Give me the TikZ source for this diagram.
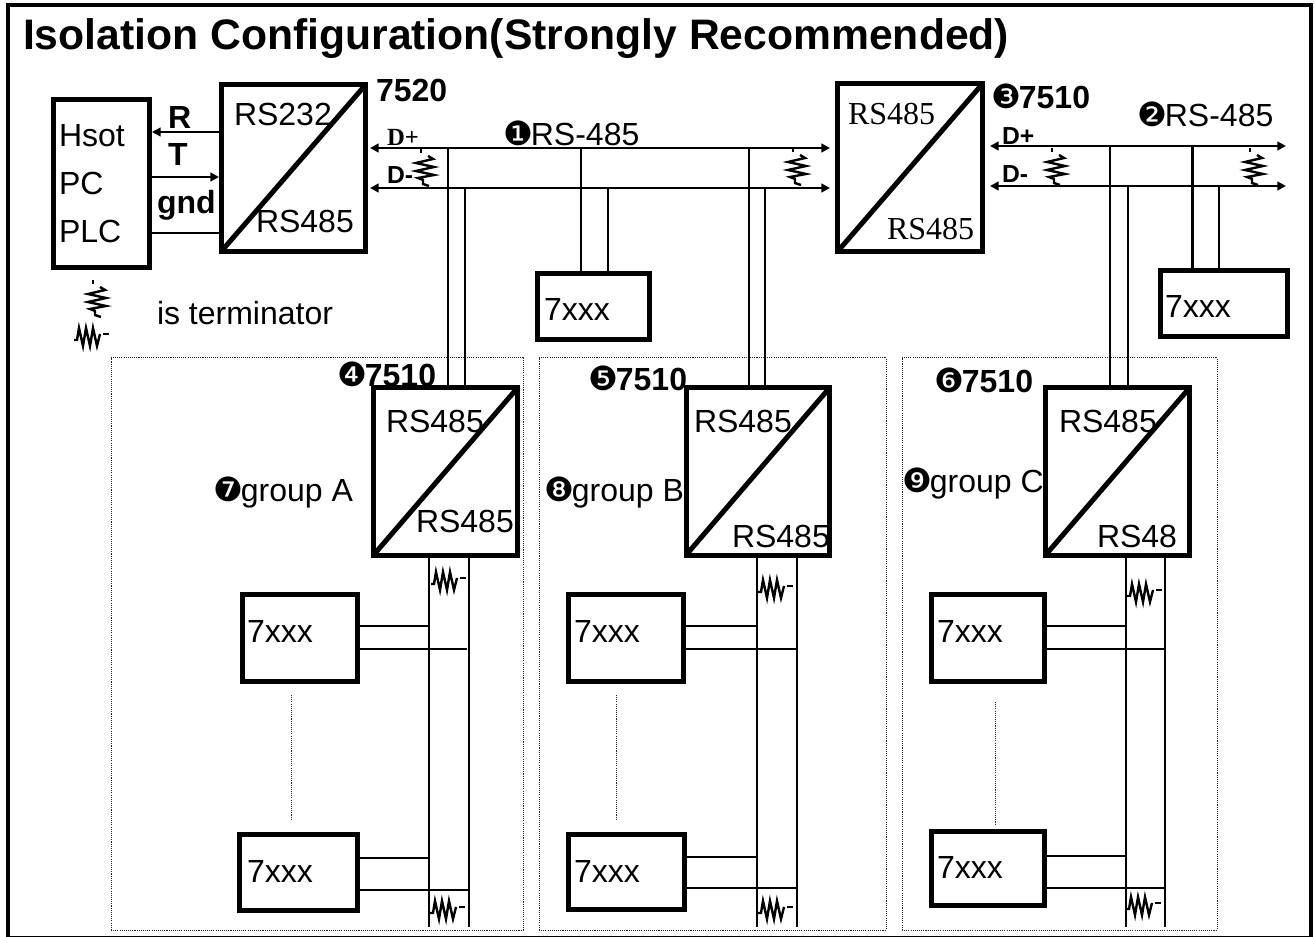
\documentclass[tikz,border=0pt]{standalone}
\usepackage{fontspec}
\setmainfont{Liberation Sans}
\newfontfamily\tms{Liberation Serif}
\newfontfamily\djv{DejaVu Sans}
\usetikzlibrary{arrows.meta}
\newcommand\circnum[1]{{\djv\fontsize{25}{24}\selectfont\mdseries #1\hspace{-1.5pt}}}
\tikzset{
  x=0.75pt,y=-0.75pt,
  lbl/.style={anchor=base west,inner sep=0pt,outer sep=0pt,font=\fontsize{24}{28}\selectfont},
  blbl/.style={lbl,font=\fontsize{24}{28}\selectfont\bfseries},
  slbl/.style={lbl,font=\tms\fontsize{24}{28}\selectfont},
  dserif/.style={lbl,font=\tms\fontsize{18.5}{22}\selectfont\bfseries},
  dsans/.style={lbl,font=\fontsize{18.5}{22}\selectfont\bfseries},
  thick box/.style={draw=black,line width=3.75pt,inner sep=0pt,fill=white},
  group box/.style={draw=black!85,line width=0.75pt,inner sep=0pt,dash pattern=on 0.8pt off 0.8pt},
  wire/.style={line width=1.9pt,draw=black},
  hair/.style={line width=0.75pt,draw=black!85,dash pattern=on 0.8pt off 0.8pt},
  diag/.style={line width=3.75pt,draw=black,shorten >=3pt,shorten <=3pt},
  both tips/.style={wire,{Triangle[length=6.5pt,width=6.5pt]}-{Triangle[length=6.5pt,width=6.5pt]}},
  end tip/.style={wire,-{Triangle[length=6.5pt,width=6.5pt]}},
  resv/.pic={\draw[line width=1.8pt,line join=miter] (3,-12)--(8,-9)--(-9,-5)--(9,-1)--(-9,3)--(9,7)--(-7,10)--(-2,12)--(-2,16)--(4,18);
             \draw[line width=1.8pt] (-4,-19)--(-4,-15);},
  resh/.pic={\draw[line width=1.8pt,line join=miter] (-18,3)--(-15,3)--(-13,-9)--(-9,9)--(-6,-9)--(-2,9)--(1,-9)--(5,9)--(8,-3);
             \draw[line width=1.8pt] (11,-3)--(17,-3);},
}
% style, name, x1, y1, x2, y2 (centre line of the border)
\newcommand\bx[6]{\node[#1,minimum width={(#5-#3)*0.75pt},minimum height={(#6-#4)*0.75pt}] (#2) at ({(#3+#5)/2},{(#4+#6)/2}) {};}
% tap: name, x, y, target node: vertical wire from a bus down to the top of a node
\newcommand\tap[4]{\coordinate (#1) at (#2,#3); \draw[wire] (#1) -- (#1 |- #4.north);}
% stub: name, y, left node, x of the free end
\newcommand\stub[4]{\coordinate (#1) at (#4,#2); \draw[wire] (#3.east |- #1) -- (#1);}
\begin{document}
\begin{tikzpicture}
\useasboundingbox (0,0) rectangle (1315,937);
\fill[white] (0,0) rectangle (1315,937);
\bx{draw=black,line width=3.5pt,inner sep=0pt}{frame}{8}{5}{1311}{938}

% group areas
\bx{group box}{gA}{111}{358}{523}{930}
\bx{group box}{gB}{539}{358}{886}{930}
\bx{group box}{gC}{902}{358}{1217}{930}

% buses
\coordinate (pL) at (370,148); \coordinate (pR) at (830,148);
\coordinate (mL) at (370,188); \coordinate (mR) at (830,188);
\coordinate (qL) at (990,146); \coordinate (qR) at (1286,146);
\coordinate (nL) at (990,186); \coordinate (nR) at (1286,186);
\draw[both tips] (pL) -- (pR);
\draw[both tips] (mL) -- (mR);
\draw[both tips] (qL) -- (qR);
\draw[both tips] (nL) -- (nR);

% boxes
\bx{thick box}{host}{53.5}{99.5}{149.5}{267.5}
\bx{thick box}{conv}{221.5}{84.5}{365.5}{251.5}
\bx{thick box}{rep}{837.5}{84}{982}{252}
\bx{thick box}{dM}{537.5}{273.5}{649.5}{339.5}
\bx{thick box}{dR}{1160.5}{270.5}{1287.5}{336.5}
\bx{thick box}{repA}{373.5}{387.5}{517.5}{555.5}
\bx{thick box}{repB}{686}{387.5}{829.5}{555.5}
\bx{thick box}{repC}{1045.5}{387.5}{1189.5}{555.5}
\bx{thick box}{dA1}{242.5}{594.5}{357.5}{681.5}
\bx{thick box}{dA2}{239.5}{834.5}{357.5}{910.5}
\bx{thick box}{dB1}{568.5}{594.5}{683.5}{681.5}
\bx{thick box}{dB2}{568.5}{834.5}{684.5}{909.5}
\bx{thick box}{dC1}{931.5}{594.5}{1044.5}{681.5}
\bx{thick box}{dC2}{931.5}{831.5}{1044.5}{905.5}

\foreach \n in {conv,rep,repA,repB,repC} \draw[diag] (\n.south west) -- (\n.north east);

% host links
\coordinate (yR) at (0,132); \coordinate (yT) at (0,177); \coordinate (yG) at (0,233);
\draw[end tip] (conv.west |- yR) -- (host.east |- yR);
\draw[end tip] (host.east |- yT) -- (conv.west |- yT);
\draw[wire] (host.east |- yG) -- (conv.west |- yG);

% taps
\tap{a1}{448}{148}{repA}
\tap{a2}{465}{188}{repA}
\tap{b1}{749}{148}{repB}
\tap{b2}{765}{188}{repB}
\tap{c1}{1110}{146}{repC}
\tap{c2}{1128}{186}{repC}
\tap{m1}{581}{148}{dM}
\tap{m2}{608}{188}{dM}
\tap{r1}{1192.5}{146}{dR}
\tap{r2}{1219}{186}{dR}

% lower buses
\coordinate (eA1) at (429,927); \coordinate (eA2) at (469,927);
\coordinate (eB1) at (757,927); \coordinate (eB2) at (797,927);
\coordinate (eC1) at (1126,927); \coordinate (eC2) at (1165,927);
\draw[wire] (eA1 |- repA.south) -- (eA1);
\draw[wire] (eA2 |- repA.south) -- (eA2);
\draw[wire] (eB1 |- repB.south) -- (eB1);
\draw[wire] (eB2 |- repB.south) -- (eB2);
\draw[wire] (eC1 |- repC.south) -- (eC1);
\draw[wire] (eC2 |- repC.south) -- (eC2);

% device stubs
\stub{s1}{626}{dA1}{429} \stub{s2}{649}{dA1}{467}
\stub{s3}{858}{dA2}{429} \stub{s4}{890}{dA2}{468}
\stub{s5}{626}{dB1}{757} \stub{s6}{649}{dB1}{797}
\stub{s7}{857}{dB2}{757} \stub{s8}{888}{dB2}{797}
\stub{s9}{626}{dC1}{1126} \stub{s10}{649}{dC1}{1165}
\stub{s11}{856}{dC2}{1126} \stub{s12}{888}{dC2}{1165}

% dotted continuation marks
\coordinate (hA1) at (291,695); \coordinate (hA2) at (291,820);
\coordinate (hB1) at (616,695); \coordinate (hB2) at (616,820);
\coordinate (hC1) at (995,702); \coordinate (hC2) at (995,825);
\draw[hair] (hA1) -- (hA2);
\draw[hair] (hB1) -- (hB2);
\draw[hair] (hC1) -- (hC2);

% terminators
\pic at (97,299) {resv};
\pic at (92,337) {resh};
\pic at (425,168) {resv};
\pic at (797,167) {resv};
\pic at (1056,167) {resv};
\pic at (1254,167) {resv};
\pic at (449,581) {resh};
\pic at (448,910) {resh};
\pic at (776,589) {resh};
\pic at (776,910) {resh};
\pic at (1145,593) {resh};
\pic at (1144,906) {resh};

% texts
\node[lbl,font=\fontsize{32}{36}\selectfont\bfseries] (title) at (23,50) {Isolation Configuration(Strongly Recommended)};
\node[lbl] (tHsot) at (59,147) {Hsot};
\node[lbl] (tPC) at (59,195) {PC};
\node[lbl] (tPLC) at (59,243) {PLC};
\node[blbl] (tR) at (168,129) {R};
\node[blbl] (tT) at (168,166) {T};
\node[blbl] (tgnd) at (157,214) {gnd};
\node[lbl] (t232) at (234,126) {RS232};
\node[lbl] (t485) at (256,233) {RS485};
\node[blbl] (t7520) at (376,102) {7520};
\node[dserif] (tDp) at (387,146) {D+};
\node[dsans] (tDm) at (387,184) {D-};
\node[lbl] (tb1) at (503,146) {\circnum{❶}RS-485};
\node[lbl] (tterm) at (157,325) {is terminator};
\node[lbl] (tM) at (544,321) {7xxx};
\node[slbl] (tr1) at (848,125) {RS485};
\node[slbl] (tr2) at (887,240) {RS485};
\node[blbl] (t3) at (991,109) {\circnum{❸}7510};
\node[lbl] (tb2) at (1137,127) {\circnum{❷}RS-485};
\node[dsans] (tDp2) at (1002,145) {D+};
\node[dsans] (tDm2) at (1002,183) {D-};
\node[lbl] (tRr) at (1165,318) {7xxx};
\node[blbl] (t4) at (337,387) {\circnum{❹}7510};
\node[blbl] (t5) at (588,391) {\circnum{❺}7510};
\node[blbl] (t6) at (934,393) {\circnum{❻}7510};
\node[lbl] (tA1) at (386,433) {RS485};
\node[lbl] (tA2) at (416,533) {RS485};
\node[lbl] (tB1) at (694,433) {RS485};
\node[lbl] (tB2) at (732,548) {RS485};
\node[lbl] (tC1) at (1059,433) {RS485};
\node[lbl] (tC2) at (1097,548) {RS48};
\node[lbl] (tgA) at (213,502) {\circnum{❼}group A};
\node[lbl] (tgB) at (544,502) {\circnum{❽}group B};
\node[lbl] (tgC) at (902,493) {\circnum{❾}group C};
\node[lbl] (x1) at (247,643) {7xxx};
\node[lbl] (x2) at (247,882) {7xxx};
\node[lbl] (x3) at (574,643) {7xxx};
\node[lbl] (x4) at (574,882) {7xxx};
\node[lbl] (x5) at (937,643) {7xxx};
\node[lbl] (x6) at (937,878) {7xxx};
\end{tikzpicture}
\end{document}
